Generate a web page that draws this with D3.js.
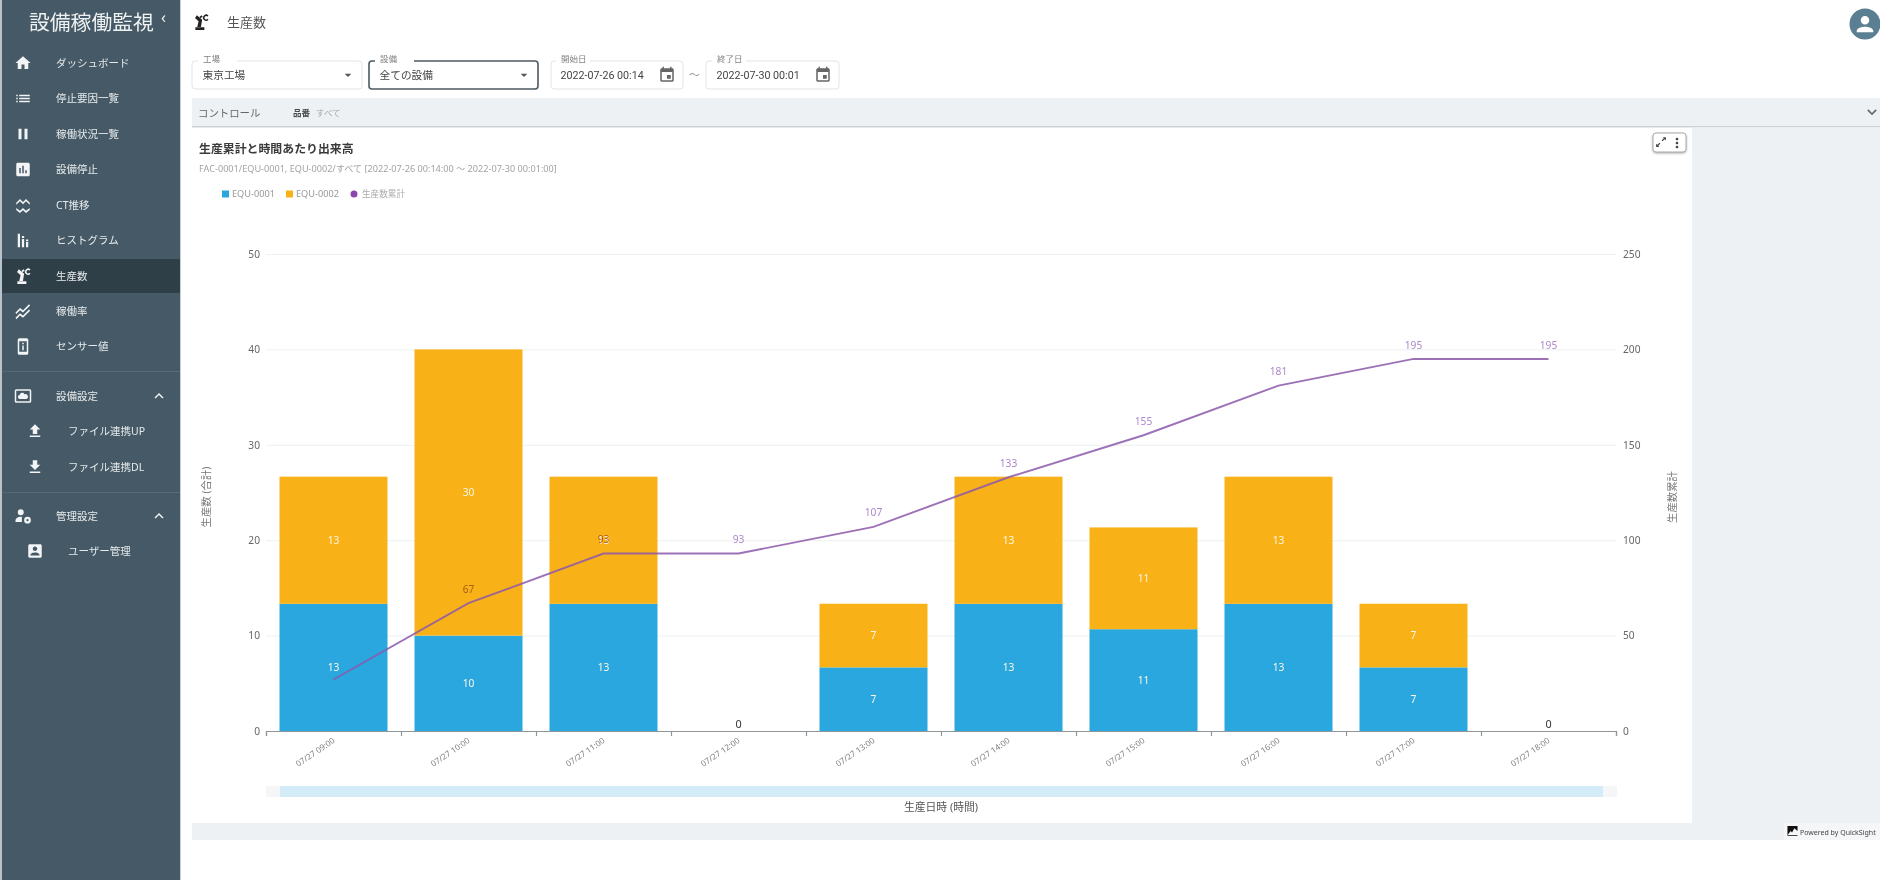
<!DOCTYPE html>
<html lang="ja">
<head>
<meta charset="utf-8">
<script src="https://cdn.jsdelivr.net/npm/d3@7"></script>
<style>
  html, body { margin: 0; padding: 0; background: #fff; overflow: hidden; }
  text { font-family: "Noto Sans", "Noto Sans CJK JP", sans-serif; }
  .roboto { font-family: Roboto, "Noto Sans CJK JP", sans-serif; }
</style>
</head>
<body>
<div id="canvas"></div>
<script>
// chart values
var hours = ["07/27 09:00", "07/27 10:00", "07/27 11:00", "07/27 12:00", "07/27 13:00",
  "07/27 14:00", "07/27 15:00", "07/27 16:00", "07/27 17:00", "07/27 18:00"];
var equ1 = [13.33, 10, 13.33, 0, 6.67, 13.33, 10.67, 13.33, 6.67, 0];
var equ2 = [13.33, 30, 13.33, 0, 6.67, 13.33, 10.67, 13.33, 6.67, 0];
var cumulative = [27, 67, 93, 93, 107, 133, 155, 181, 195, 195];
var leftTicks = [0, 10, 20, 30, 40, 50];
var rightTicks = [0, 50, 100, 150, 200, 250];
var seriesNames = ["EQU-0001", "EQU-0002"];

// sidebar menu
var navLabels = ["ダッシュボード", "停止要因一覧", "稼働状況一覧", "設備停止", "CT推移", "ヒストグラム", "生産数", "稼働率", "センサー値", "設備設定", "ファイル連携UP", "ファイル連携DL", "管理設定", "ユーザー管理"];
var navIcons = ["home", "list", "pause", "bars", "ct", "hist", "robot", "rate", "sensor", "cloud", "upload", "download", "admin", "user"];
var navRowY = [63, 98.5, 134, 169.5, 205, 240.5, 276, 311, 346.5, 396, 431, 467, 516, 551];

var colors = { blue: "#29a7de", orange: "#f9b118", purple: "#8e44ad", line: "#8c58ab", side: "#455a66", sideDark: "#2f3f48", band: "#eef1f4" };

var icons = {
  home: "M10 20v-6h4v6h5v-8h3L12 3 2 12h3v8z",
  list: "M3 13h2v-2H3v2zm0 4h2v-2H3v2zm0-8h2V7H3v2zm4 4h14v-2H7v2zm0 4h14v-2H7v2zM7 7v2h14V7H7z",
  pause: "M6 19h4V5H6v14zm8-14v14h4V5h-4z",
  bars: "M19 3H5c-1.1 0-2 .9-2 2v14c0 1.1.9 2 2 2h14c1.1 0 2-.9 2-2V5c0-1.1-.9-2-2-2zM9 17H7v-7h2v7zm4 0h-2V7h2v10zm4 0h-2v-4h2v4z",
  ct: "M3 9l5-5 4 4 4-4 5 5v2.5l-5-4.5-4 4-4-4-5 4.5zM3 16l5 3.5 4-3.5 4 3.5 5-3.5v2.5l-5 4-4-3.5-4 3.5-5-4z",
  hist: "M5 3h3v18H5zM10.5 10h3v11h-3zM16 14h3v7h-3zM10.5 6h3v2.5h-3zM16 10.5h3V13h-3z",
  robot: "M4.5 19h12v3.5h-12zM7 18.5l1.8-7.5L4 6.5 6.5 3l7 6-1.6 9.5zM10 5l3-2 1.2 2-3 2zM22 3.5A4.2 4.2 0 1 0 22 9l-1.5-1.3A2.2 2.2 0 1 1 20.5 4.8z",
  rate: "M2 14l6-6 4 3 8-8 1.5 1.5-9.5 9.5-4-3-5 5zM2 21l6-6 4 3 8-8 1.5 1.5-9.5 9.5-4-3-5 5z",
  sensor: "M7 1h10a2 2 0 0 1 2 2v18a2 2 0 0 1-2 2H7a2 2 0 0 1-2-2V3a2 2 0 0 1 2-2zm0 4v14h10V5zm4 2h2v2h-2zm0 3.5h2V17h-2z",
  cloud: "M3 3h18a2 2 0 0 1 2 2v14a2 2 0 0 1-2 2H3a2 2 0 0 1-2-2V5a2 2 0 0 1 2-2zm0 2v14h18V5zM8 16a2.6 2.6 0 0 1-.4-5.2A3.4 3.4 0 0 1 14 9.6a3.2 3.2 0 0 1 2.4 6.4z",
  upload: "M9 16h6v-6h4l-7-7-7 7h4zm-4 2h14v2H5z",
  download: "M19 9h-4V3H9v6H5l7 7 7-7zM5 18v2h14v-2H5z",
  admin: "M9 3a4 4 0 1 1 0 8 4 4 0 0 1 0-8zM2 20v-2c0-3 4-5 7-5 .6 0 1 0 1.5.1V20zM18 13a4.5 4.5 0 1 1 0 9 4.5 4.5 0 0 1 0-9zm0 3a1.5 1.5 0 1 0 0 3 1.5 1.5 0 0 0 0-3z",
  user: "M3 5v14c0 1.1.89 2 2 2h14c1.1 0 2-.9 2-2V5c0-1.1-.9-2-2-2H5c-1.11 0-2 .9-2 2zm12 4c0 1.66-1.34 3-3 3s-3-1.34-3-3 1.34-3 3-3 3 1.34 3 3zm-9 8c0-2 4-3.1 6-3.1s6 1.1 6 3.1v1H6v-1z",
  event: "M17 12h-5v5h5v-5zM16 1v2H8V1H6v2H5c-1.11 0-1.99.9-1.99 2L3 19c0 1.1.89 2 2 2h14c1.1 0 2-.9 2-2V5c0-1.1-.9-2-2-2h-1V1h-2zm3 18H5V8h14v11z",
  less: "M12 8l-6 6 1.41 1.41L12 10.83l4.59 4.58L18 14z",
  more: "M16.59 8.59L12 13.17 7.41 8.59 6 10l6 6 6-6z",
  drop: "M7 10l5 5 5-5z",
  vert: "M12 8c1.1 0 2-.9 2-2s-.9-2-2-2-2 .9-2 2 .9 2 2 2zm0 2c-1.1 0-2 .9-2 2s.9 2 2 2 2-.9 2-2-.9-2-2-2zm0 6c-1.1 0-2 .9-2 2s.9 2 2 2 2-.9 2-2-.9-2-2-2z",
  expand: "M15 3h6v6l-2.2-2.2-4 4-1.6-1.6 4-4zM9 21H3v-6l2.2 2.2 4-4 1.6 1.6-4 4z",
  person: "M12 5.5c1.9 0 3.4 1.5 3.4 3.4s-1.5 3.4-3.4 3.4-3.4-1.5-3.4-3.4 1.5-3.4 3.4-3.4zm0 8.6c2.3 0 6.6 1.1 6.6 3.3v1.1H5.4v-1.1c0-2.2 4.3-3.3 6.6-3.3z",
  logo: "M1 1h22v22H1zM1 21l7-9 3 3 5-9 7 6v9z"
};

var svg = d3.select("#canvas").append("svg").attr("width", 1880).attr("height", 880);

function icon(parent, name, cx, cy, size, fill) {
  parent.append("path").attr("d", icons[name]).attr("fill", fill).attr("fill-rule", "evenodd")
    .attr("transform", "translate(" + (cx - size / 2) + "," + (cy - size / 2) + ") scale(" + size / 24 + ")");
}

function label(parent, str, x, y, size, fill, extra) {
  var t = parent.append("text").attr("x", x).attr("y", y).attr("dy", "0.35em")
    .attr("font-size", size).attr("fill", fill).text(str);
  if (extra) extra(t);
  return t;
}

// ---------- sidebar ----------
var side = svg.append("g");
side.append("rect").attr("width", 180).attr("height", 880).attr("fill", colors.side);
side.append("rect").attr("width", 2).attr("height", 880).attr("fill", "#b9c4ca");
side.append("rect").attr("x", 180).attr("width", 1).attr("height", 880).attr("fill", "#c5ced3");
side.append("rect").attr("x", 2).attr("y", 259).attr("width", 178).attr("height", 34).attr("fill", colors.sideDark);
side.append("rect").attr("x", 2).attr("y", 371).attr("width", 178).attr("height", 1).attr("fill", "#566a75");
side.append("rect").attr("x", 2).attr("y", 492).attr("width", 178).attr("height", 1).attr("fill", "#566a75");
label(side, "設備稼働監視", 29, 23, 20.8, "#eef1f2");
label(side, "‹", 161, 17, 16, "#eef1f2");

navLabels.forEach(function (name, i) {
  var sub = navIcons[i] == "upload" || navIcons[i] == "download" || navIcons[i] == "user";
  icon(side, navIcons[i], sub ? 35 : 23, navRowY[i], 18, "#f2f4f5");
  label(side, name, sub ? 68 : 56, navRowY[i], 10.5, "#e6eaec");
  if (navIcons[i] == "cloud" || navIcons[i] == "admin") icon(side, "less", 159, navRowY[i], 18, "#f2f4f5");
});

// ---------- header and filters ----------
icon(svg, "robot", 201, 22, 18, "#222");
label(svg, "生産数", 227, 22, 13, "#555");
svg.append("circle").attr("cx", 1865).attr("cy", 24).attr("r", 15.5).attr("fill", "#5b7f92");
icon(svg, "person", 1865, 24, 30, "#fff");

function field(x0, x1, title, gapX0, gapX1, value, active, cls) {
  var g = svg.append("g");
  g.append("rect").attr("x", x0).attr("y", 61).attr("width", x1 - x0).attr("height", 28).attr("rx", 3)
    .attr("fill", "#fff").attr("stroke", active ? "#4d5a61" : "#e2e4e6").attr("stroke-width", active ? 1.6 : 1);
  g.append("rect").attr("x", gapX0).attr("y", 58).attr("width", gapX1 - gapX0).attr("height", 6).attr("fill", "#fff");
  label(g, title, gapX0 + 5, 59.5, 8.5, "#808080");
  label(g, value, gapX0 + 4.5, 75, 10.7, "#444", function (t) { if (cls) t.attr("class", cls); });
  return g;
}
icon(field(192, 362, "工場", 198, 237, "東京工場"), "drop", 348, 75, 16, "#555");
icon(field(369, 538, "設備", 375, 414, "全ての設備", true), "drop", 524, 75, 16, "#555");
icon(field(551, 683, "開始日", 556, 590, "2022-07-26 00:14", false, "roboto"), "event", 667, 75, 18, "#666");
label(svg, "～", 689, 75, 11, "#999");
icon(field(706, 839, "終了日", 712, 746, "2022-07-30 00:01", false, "roboto"), "event", 823, 75, 18, "#666");

// ---------- dashboard frame ----------
svg.append("rect").attr("x", 192).attr("y", 98).attr("width", 1688).attr("height", 28).attr("fill", colors.band);
svg.append("rect").attr("x", 192).attr("y", 126).attr("width", 1688).attr("height", 1.5).attr("fill", "#cdd2d6");
label(svg, "コントロール", 198, 113, 10.4, "#666");
label(svg, "品番", 293, 113, 8.5, "#4a4a4a", function (t) { t.attr("font-weight", 700); });
label(svg, "すべて", 316, 113, 8.5, "#a6a6a6");
icon(svg, "more", 1872, 112, 19, "#666");
svg.append("rect").attr("x", 1692).attr("y", 127.5).attr("width", 188).attr("height", 712.5).attr("fill", colors.band);
svg.append("rect").attr("x", 192).attr("y", 823).attr("width", 1688).attr("height", 17).attr("fill", colors.band);
svg.append("rect").attr("x", 1784).attr("y", 823).attr("width", 96).attr("height", 17).attr("fill", "#f5f6f8");
icon(svg, "logo", 1792.5, 831, 11, "#111");
label(svg, "Powered by QuickSight", 1800, 833, 7, "#444");

var tool = svg.append("g");
tool.append("rect").attr("x", 1653).attr("y", 133).attr("width", 33).attr("height", 19).attr("rx", 3)
  .attr("fill", "#fff").attr("stroke", "#aaa").style("filter", "drop-shadow(0 1px 1px rgba(0,0,0,.3))");
icon(tool, "expand", 1661, 142, 13, "#444");
icon(tool, "vert", 1677, 143, 16, "#444");

// ---------- chart titles and legend ----------
label(svg, "生産累計と時間あたり出来高", 199, 149, 11.9, "#3a3a3a", function (t) { t.attr("font-weight", 700); });
label(svg, "FAC-0001/EQU-0001, EQU-0002/すべて [2022-07-26 00:14:00 ～ 2022-07-30 00:01:00]", 199, 169, 9.15, "#a3a3a3");

var legend = svg.append("g");
[colors.blue, colors.orange].forEach(function (c, i) {
  var x = i == 0 ? 222 : 286;
  legend.append("rect").attr("x", x).attr("y", 190.5).attr("width", 7).attr("height", 7).attr("fill", c);
  label(legend, seriesNames[i], x + 10, 194, 9.2, "#999");
});
legend.append("circle").attr("cx", 354).attr("cy", 194).attr("r", 3.5).attr("fill", colors.purple);
label(legend, "生産数累計", 362, 194, 8.6, "#aaa");

// ---------- scales ----------
var plot = { left: 266, right: 1616, top: 254, bottom: 731 };
var x = d3.scaleBand().domain(hours).range([plot.left, plot.right]).paddingInner(0.2).paddingOuter(0.1);
var yLeft = d3.scaleLinear().domain([0, 50]).range([plot.bottom, plot.top]);
var yRight = d3.scaleLinear().domain([0, 250]).range([plot.bottom, plot.top]);
var slots = d3.scaleLinear().domain([0, hours.length]).range([plot.left, plot.right]);

// gridlines and value axes
var gridAxis = d3.axisLeft(yLeft).tickValues(leftTicks).tickSize(-(plot.right - plot.left)).tickFormat("");
var grid = svg.append("g").attr("transform", "translate(" + plot.left + ",0)").call(gridAxis);
grid.select(".domain").remove();
grid.selectAll("line").attr("stroke", "#eef0f1");

var leftAxis = svg.append("g").attr("transform", "translate(" + plot.left + ",0)")
  .call(d3.axisLeft(yLeft).tickValues(leftTicks).tickSize(0).tickPadding(6));
var rightAxis = svg.append("g").attr("transform", "translate(" + plot.right + ",0)")
  .call(d3.axisRight(yRight).tickValues(rightTicks).tickSize(0).tickPadding(7));
[leftAxis, rightAxis].forEach(function (a) {
  a.select(".domain").remove();
  a.selectAll("text").attr("font-size", 10.2).attr("fill", "#666").attr("font-family", null);
});

// stacked bars
var rows = hours.map(function (h, i) { return { hour: h, a: equ1[i], b: equ2[i] }; });
var stacked = d3.stack().keys(["a", "b"])(rows);
var barGroups = svg.selectAll(".series").data(stacked).enter().append("g")
  .attr("class", "series").attr("fill", function (d, i) { return i == 0 ? colors.blue : colors.orange; });
barGroups.selectAll("rect").data(function (d) { return d; }).enter().append("rect")
  .attr("x", function (d) { return x(d.data.hour); })
  .attr("y", function (d) { return yLeft(d[1]); })
  .attr("width", x.bandwidth())
  .attr("height", function (d) { return yLeft(d[0]) - yLeft(d[1]); });

// bar value labels
barGroups.selectAll("text").data(function (d) { return d.filter(function (s) { return s[1] > s[0]; }); }).enter().append("text")
  .attr("x", function (d) { return x(d.data.hour) + x.bandwidth() / 2; })
  .attr("y", function (d) { return yLeft((d[0] + d[1]) / 2); })
  .attr("dy", "0.35em").attr("text-anchor", "middle")
  .attr("font-size", 10.2).attr("fill", "#fdf6e6")
  .text(function (d) { return d3.format(".0f")(d[1] - d[0]); });

// zero labels for empty hours
svg.selectAll(".zero").data(rows.filter(function (r) { return r.a + r.b == 0; })).enter().append("text")
  .attr("class", "zero")
  .attr("x", function (d) { return x(d.hour) + x.bandwidth() / 2; })
  .attr("y", yLeft(0) - 7).attr("dy", "0.35em").attr("text-anchor", "middle")
  .attr("font-size", 10.8).attr("fill", "#333").text("0");

// category axis: ticks on slot edges, labels under the bars
var tickAxis = svg.append("g").attr("transform", "translate(0," + plot.bottom + ")")
  .call(d3.axisBottom(slots).ticks(hours.length).tickSize(5).tickFormat(""));
tickAxis.selectAll("path, line").attr("stroke", "#8f9599").attr("stroke-width", 1.2);

var hourAxis = svg.append("g").attr("transform", "translate(0," + plot.bottom + ")")
  .call(d3.axisBottom(x).tickSize(0).tickPadding(0));
hourAxis.select(".domain").remove();
hourAxis.selectAll("text")
  .attr("font-size", 8.2).attr("fill", "#808080").attr("font-family", null)
  .attr("text-anchor", "end").attr("dy", 0).attr("y", 0)
  .attr("transform", "translate(2,11) rotate(-34)");

// cumulative line
var lineGen = d3.line()
  .x(function (d, i) { return x(hours[i]) + x.bandwidth() / 2; })
  .y(function (d) { return yRight(d); });
svg.append("path").datum(cumulative).attr("d", lineGen).attr("fill", "none")
  .attr("stroke", colors.line).attr("stroke-width", 1.9).attr("opacity", 0.85);

// first point label is not shown in the reference
var lineLabels = cumulative.map(function (v, i) { return { value: v, hour: hours[i] }; }).slice(1);
svg.selectAll(".cum").data(lineLabels).enter().append("text")
  .attr("class", "cum")
  .attr("x", function (d) { return x(d.hour) + x.bandwidth() / 2; })
  .attr("y", function (d) { return yRight(d.value) - 14; })
  .attr("dy", "0.35em").attr("text-anchor", "middle")
  .attr("font-size", 10.2).attr("fill", "#ad87c9").style("mix-blend-mode", "multiply")
  .text(function (d) { return d.value; });

// axis titles and scroll bar
svg.append("text").attr("transform", "translate(206,497) rotate(-90)").attr("text-anchor", "middle").attr("dy", "0.35em")
  .attr("font-size", 10.4).attr("fill", "#777").text("生産数 (合計)");
svg.append("text").attr("transform", "translate(1672,497) rotate(-90)").attr("text-anchor", "middle").attr("dy", "0.35em")
  .attr("font-size", 10.4).attr("fill", "#777").text("生産数累計");
svg.append("text").attr("x", 941).attr("y", 807).attr("dy", "0.35em").attr("text-anchor", "middle")
  .attr("font-size", 10.8).attr("fill", "#555").text("生産日時 (時間)");
svg.append("rect").attr("x", plot.left).attr("y", 786).attr("width", plot.right - plot.left + 1).attr("height", 11).attr("fill", "#f4f6f7");
svg.append("rect").attr("x", 280).attr("y", 786).attr("width", 1323).attr("height", 11).attr("fill", "#d4ecf7");
</script>
</body>
</html>
